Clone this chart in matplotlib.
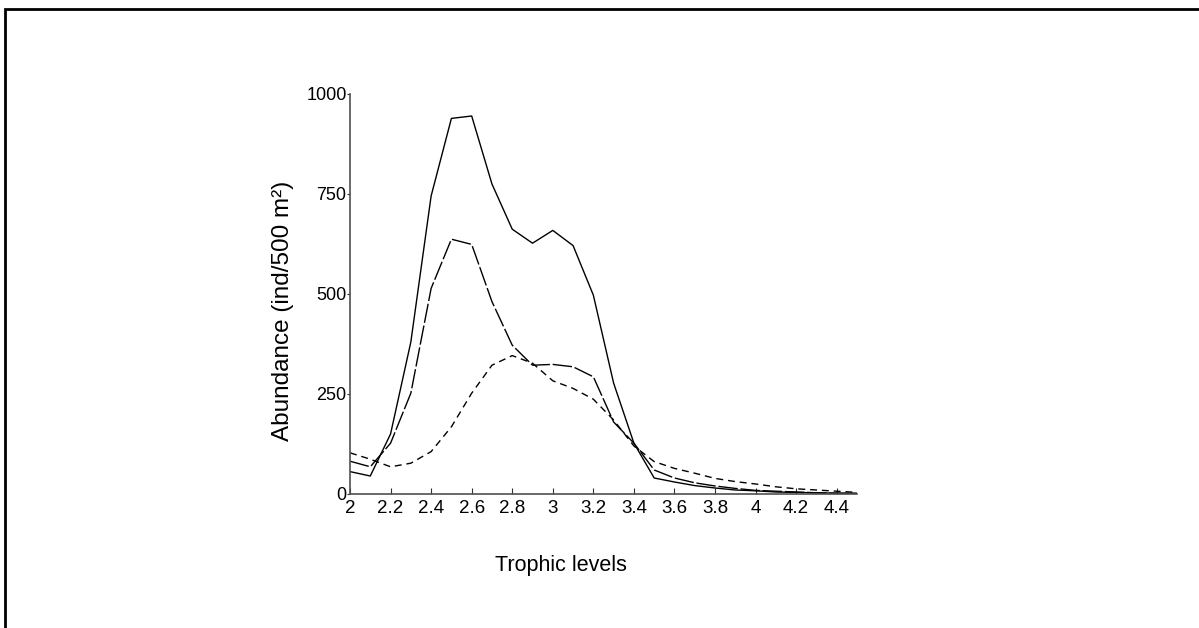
import matplotlib.pyplot as plt
from matplotlib.patches import Rectangle

plt.rcParams['font.family'] = ['Liberation Sans', 'DejaVu Sans']

trophic = [2.0, 2.1, 2.2, 2.3, 2.4, 2.5, 2.6, 2.7, 2.8, 2.9, 3.0, 3.1, 3.2,
           3.3, 3.4, 3.5, 3.6, 3.7, 3.8, 3.9, 4.0, 4.1, 4.2, 4.3, 4.4, 4.5]
total = [56, 45, 150, 380, 745, 939, 945, 775, 662, 627, 659, 621, 497,
         277, 127, 40, 30, 21, 15, 10, 8, 5, 4, 3, 2, 2]
series_b = [82, 68, 127, 252, 514, 637, 624, 481, 372, 322, 324, 318, 293,
            180, 127, 60, 40, 28, 20, 14, 9, 7, 5, 3, 2, 1]
series_c = [103, 87, 68, 77, 106, 168, 252, 322, 346, 327, 283, 264, 237,
            185, 120, 81, 64, 52, 39, 31, 25, 18, 13, 10, 7, 4]

xticks = [2, 2.2, 2.4, 2.6, 2.8, 3, 3.2, 3.4, 3.6, 3.8, 4, 4.2, 4.4]
xticklabels = ['2', '2.2', '2.4', '2.6', '2.8', '3', '3.2', '3.4', '3.6', '3.8', '4', '4.2', '4.4']
yticks = [0, 250, 500, 750, 1000]

fig = plt.figure(figsize=(11.99, 6.28), dpi=100)
ax = fig.add_axes([350 / 1199, 1 - 494 / 628, 507 / 1199, 400 / 628])

ax.plot(trophic, total, color='black', lw=1.0)
ax.plot(trophic, series_b, color='black', lw=1.0, dashes=(14, 2))
ax.plot(trophic, series_c, color='black', lw=1.0, dashes=(5, 3.5))

ax.set_xlim(2, 4.5)
ax.set_ylim(0, 1000)
ax.set_xticks(xticks)
ax.set_xticklabels(xticklabels)
ax.set_yticks(yticks)

for side in ['top', 'right']:
    ax.spines[side].set_visible(False)
for side in ['left', 'bottom']:
    ax.spines[side].set_color('#505050')
    ax.spines[side].set_linewidth(1.2)

ax.tick_params(axis='x', direction='in', length=4, width=0.8, color='#303030',
               labelsize=13.5, pad=4)
ax.tick_params(axis='y', direction='out', length=2.5, width=0.8, color='#303030',
               labelsize=13, pad=0)

ax.set_ylabel('Abundance (ind/500 m²)', fontsize=17.5)
ax.yaxis.label.set_va('center')
ax.yaxis.set_label_coords((283 - 350) / 507, (494 - 310.5) / 400)

ax.set_xlabel('Trophic levels', fontsize=15.5)
ax.xaxis.label.set_va('center')
ax.xaxis.set_label_coords((561 - 350) / 507, (494 - 565) / 400)

# figure frame (only left and top edges fall inside the image)
fig.patches.append(Rectangle((5 / 1199, -0.05), 1.1, 1 - 9 / 628 + 0.05,
                             transform=fig.transFigure, fill=False,
                             edgecolor='black', lw=2))

fig.savefig('out.png', dpi=100)
